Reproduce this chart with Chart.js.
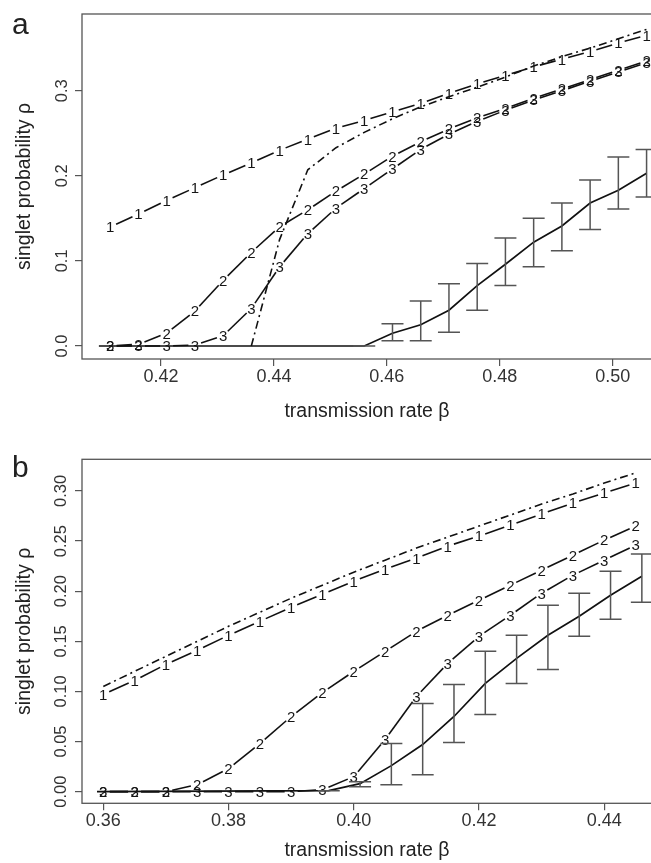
<!DOCTYPE html>
<html><head><meta charset="utf-8">
<script src="https://cdn.jsdelivr.net/npm/chart.js@4.4.1/dist/chart.umd.min.js"></script>
<style>
html,body{margin:0;padding:0;overflow:hidden;background:#fff;width:651px;height:863px;}
#wa{position:absolute;left:0;top:0;width:660px;height:430px;}
#wb{position:absolute;left:0;top:430px;width:660px;height:433px;}
</style></head><body>
<div id="wa"><canvas id="ca" width="660" height="430"></canvas></div>
<div id="wb"><canvas id="cb" width="660" height="433"></canvas></div>
<script>
// ---------- Panel a data ----------
const betaA   = [0.411,0.416,0.421,0.426,0.431,0.436,0.441,0.446,0.451,0.456,0.461,0.466,0.471,0.476,0.481,0.486,0.491,0.496,0.501,0.506];
const model1A = [0.140,0.155,0.171,0.186,0.201,0.215,0.230,0.243,0.256,0.265,0.275,0.285,0.297,0.308,0.318,0.328,0.337,0.346,0.356,0.365];
const model2A = [0.000,0.002,0.015,0.041,0.077,0.110,0.140,0.160,0.182,0.202,0.223,0.240,0.255,0.268,0.279,0.291,0.302,0.313,0.324,0.335];
const model3A = [0.000,0.000,0.000,0.001,0.012,0.044,0.093,0.132,0.162,0.185,0.208,0.231,0.249,0.264,0.277,0.289,0.300,0.311,0.322,0.333];
const mfBetaA = [0.436,0.441,0.446,0.451,0.456,0.461,0.466,0.471,0.476,0.481,0.486,0.491,0.496,0.501,0.506];
const mfA     = [0.000,0.125,0.207,0.233,0.251,0.267,0.281,0.293,0.304,0.316,0.329,0.340,0.350,0.361,0.372];
const simBetaA = [0.409,0.456,0.461,0.466,0.471,0.476,0.481,0.486,0.491,0.496,0.501,0.506];
const simA     = [0.000,0.000,0.015,0.025,0.042,0.071,0.096,0.122,0.141,0.168,0.183,0.203];
const simLoA   = [null,0.000,0.006,0.006,0.016,0.042,0.071,0.093,0.112,0.137,0.161,0.175];
const simHiA   = [null,0.000,0.026,0.053,0.073,0.097,0.127,0.150,0.168,0.195,0.222,0.231];
const xTicksA = [0.42,0.44,0.46,0.48,0.50];
const xLabelsA = ['0.42','0.44','0.46','0.48','0.50'];
const yTicksA = [0.0,0.1,0.2,0.3];
const yLabelsA = ['0.0','0.1','0.2','0.3'];

// ---------- Panel b data ----------
const betaB   = [0.360,0.365,0.370,0.375,0.380,0.385,0.390,0.395,0.400,0.405,0.410,0.415,0.420,0.425,0.430,0.435,0.440,0.445];
const model1B = [0.097,0.111,0.127,0.141,0.156,0.170,0.184,0.197,0.210,0.222,0.233,0.245,0.255,0.266,0.277,0.288,0.298,0.308];
const model2B = [0.000,0.000,0.000,0.007,0.023,0.048,0.075,0.099,0.120,0.140,0.160,0.176,0.191,0.206,0.221,0.236,0.251,0.265];
const model3B = [0.000,0.000,0.000,0.000,0.000,0.000,0.000,0.002,0.015,0.052,0.095,0.128,0.155,0.176,0.198,0.216,0.231,0.246];
const mfB     = [0.105,0.120,0.135,0.150,0.165,0.179,0.193,0.206,0.219,0.231,0.243,0.254,0.265,0.276,0.287,0.297,0.308,0.318];
const simBetaB = [0.359,0.396,0.401,0.406,0.411,0.416,0.421,0.426,0.431,0.436,0.441,0.446];
const simB     = [0.000,0.001,0.008,0.026,0.047,0.075,0.108,0.133,0.156,0.175,0.196,0.215];
const simLoB   = [null,0.001,0.005,0.007,0.017,0.049,0.077,0.108,0.122,0.155,0.172,0.189];
const simHiB   = [null,0.001,0.010,0.048,0.088,0.107,0.140,0.156,0.186,0.198,0.220,0.237];
const xTicksB = [0.36,0.38,0.40,0.42,0.44];
const xLabelsB = ['0.36','0.38','0.40','0.42','0.44'];
const yTicksB = [0.00,0.05,0.10,0.15,0.20,0.25,0.30];
const yLabelsB = ['0.00','0.05','0.10','0.15','0.20','0.25','0.30'];

const xTitle = 'transmission rate \u03B2';
const yTitle = 'singlet probability \u03C1';
const FONT = '"Liberation Sans", Arial, Helvetica, sans-serif';

const pts = (xs, ys) => xs.map((x,i)=>({x:x, y:ys[i]}));

// type "b" style: segments with gaps around each numbered marker, then the marker digit
const numberedLines = {
  id:'numberedLines',
  beforeDatasetsDraw(chart){
    const ctx = chart.ctx, a = chart.chartArea;
    ctx.save();
    ctx.beginPath(); ctx.rect(a.left, a.top, a.right-a.left, a.bottom-a.top); ctx.clip();
    chart.data.datasets.forEach((ds,i)=>{
      if(!ds.digit) return;
      const el = chart.getDatasetMeta(i).data;
      ctx.strokeStyle = '#111'; ctx.lineWidth = 1.6; ctx.setLineDash([]); ctx.lineCap='butt';
      for(let k=0;k<el.length-1;k++){
        const p = el[k], q = el[k+1];
        const dx = q.x-p.x, dy = q.y-p.y, L = Math.hypot(dx,dy), g = 6.5;
        if(L <= 2*g) continue;
        const ux = dx/L, uy = dy/L;
        ctx.beginPath();
        ctx.moveTo(p.x+ux*g, p.y+uy*g);
        ctx.lineTo(q.x-ux*g, q.y-uy*g);
        ctx.stroke();
      }
    });
    ctx.restore();
  },
  afterDatasetsDraw(chart){
    const ctx = chart.ctx;
    ctx.save();
    ctx.font = '15px ' + FONT;
    ctx.fillStyle = '#151515';
    ctx.textAlign = 'center'; ctx.textBaseline = 'alphabetic';
    chart.data.datasets.forEach((ds,i)=>{
      if(!ds.digit) return;
      chart.getDatasetMeta(i).data.forEach(p=>{
        ctx.fillText(ds.digit, p.x, p.y + 0.36*15);
      });
    });
    ctx.restore();
  }
};

const errorBars = {
  id:'errorBars',
  afterDatasetsDraw(chart){
    const ctx = chart.ctx, xs = chart.scales.x, ys = chart.scales.y;
    ctx.save();
    chart.data.datasets.forEach((ds)=>{
      if(!ds.errLo) return;
      ctx.strokeStyle = '#555'; ctx.lineWidth = 1.5; ctx.setLineDash([]);
      ds.data.forEach((p,k)=>{
        const lo = ds.errLo[k], hi = ds.errHi[k];
        if(lo === null || hi === null) return;
        const px = xs.getPixelForValue(p.x);
        const y1 = ys.getPixelForValue(lo), y2 = ys.getPixelForValue(hi);
        const w = 11;
        ctx.beginPath();
        ctx.moveTo(px, y1); ctx.lineTo(px, y2);
        ctx.moveTo(px-w, y1); ctx.lineTo(px+w, y1);
        ctx.moveTo(px-w, y2); ctx.lineTo(px+w, y2);
        ctx.stroke();
      });
    });
    ctx.restore();
  }
};

const frame = {
  id:'frame',
  afterDraw(chart){
    const ctx = chart.ctx, a = chart.chartArea;
    ctx.save();
    ctx.strokeStyle = '#555'; ctx.lineWidth = 1.3;
    ctx.strokeRect(a.left, a.top, a.right-a.left, a.bottom-a.top);
    const o = chart.options.plugins.frame;
    ctx.fillStyle = '#222';
    ctx.font = '30px ' + FONT;
    ctx.textAlign = 'left'; ctx.textBaseline = 'alphabetic';
    ctx.fillText(o.letter, o.lx, o.ly);
    ctx.restore();
  }
};

function makeChart(id, cfg){
  const datasets = [
    {data: pts(cfg.mfX, cfg.mf), showLine:true, borderColor:'#111', borderWidth:1.6, borderDash:[8,4,2,4], pointRadius:0},
    {data: pts(cfg.simX, cfg.sim), showLine:true, borderColor:'#111', borderWidth:1.7, pointRadius:0, errLo:cfg.simLo, errHi:cfg.simHi},
    {data: pts(cfg.beta, cfg.m1), showLine:false, digit:'1', pointRadius:0},
    {data: pts(cfg.beta, cfg.m2), showLine:false, digit:'2', pointRadius:0},
    {data: pts(cfg.beta, cfg.m3), showLine:false, digit:'3', pointRadius:0}
  ];
  return new Chart(document.getElementById(id), {
    type:'scatter',
    data:{datasets},
    plugins:[numberedLines, errorBars, frame],
    options:{
      responsive:false, animation:false, devicePixelRatio:1,
      layout:{padding:{top:cfg.padTop, right:8, left:0, bottom:0}},
      plugins:{legend:{display:false}, tooltip:{enabled:false}, frame:{letter:cfg.letter, lx:12, ly:cfg.letterY}},
      scales:{
        x:{
          type:'linear', min:cfg.xmin, max:cfg.xmax,
          afterBuildTicks: s => { s.ticks = cfg.xTicks.map(v=>({value:v})); },
          afterFit: s => { s.height = cfg.xAxisH; },
          ticks:{callback:(v,i)=>cfg.xLabels[i], color:'#333', font:{family:FONT, size:18}, padding:0, maxRotation:0, minRotation:0, autoSkip:false},
          grid:{drawOnChartArea:false, drawTicks:true, tickLength:7, color:'#555', lineWidth:1.2},
          border:{display:false},
          title:{display:true, text:xTitle, color:'#222', font:{family:FONT, size:19.5}, padding:{top:0, bottom:cfg.xTitlePad}}
        },
        y:{
          type:'linear', min:cfg.ymin, max:cfg.ymax,
          afterBuildTicks: s => { s.ticks = cfg.yTicks.map(v=>({value:v})); },
          afterFit: s => { s.width = 82; },
          ticks:{callback:(v,i)=>cfg.yLabels[i], color:'#333', font:{family:FONT, size:16.5}, padding:cfg.yTickPad, minRotation:90, maxRotation:90, crossAlign:'center', autoSkip:false},
          grid:{drawOnChartArea:false, drawTicks:true, tickLength:7, color:'#555', lineWidth:1.2},
          border:{display:false},
          title:{display:true, text:yTitle, color:'#222', font:{family:FONT, size:19.5}, padding:{top:13, bottom:0}}
        }
      }
    }
  });
}

makeChart('ca', {
  beta:betaA, m1:model1A, m2:model2A, m3:model3A, mfX:mfBetaA, mf:mfA,
  simX:simBetaA, sim:simA, simLo:simLoA, simHi:simHiA,
  xTicks:xTicksA, xLabels:xLabelsA, yTicks:yTicksA, yLabels:yLabelsA,
  xmin:0.40601, xmax:0.50696, ymin:-0.0153, ymax:0.3901,
  padTop:14, xAxisH:71, xTitlePad:6.5, yTickPad:1, letter:'a', letterY:34
});
makeChart('cb', {
  beta:betaB, m1:model1B, m2:model2B, m3:model3B, mfX:betaB, mf:mfB,
  simX:simBetaB, sim:simB, simLo:simLoB, simHi:simHiB,
  xTicks:xTicksB, xLabels:xLabelsB, yTicks:yTicksB, yLabels:yLabelsB,
  xmin:0.3566, xmax:0.44762, ymin:-0.0116, ymax:0.3316,
  padTop:29.3, xAxisH:59.7, xTitlePad:0.5, yTickPad:-3, letter:'b', letterY:47
});
</script>
</body></html>
